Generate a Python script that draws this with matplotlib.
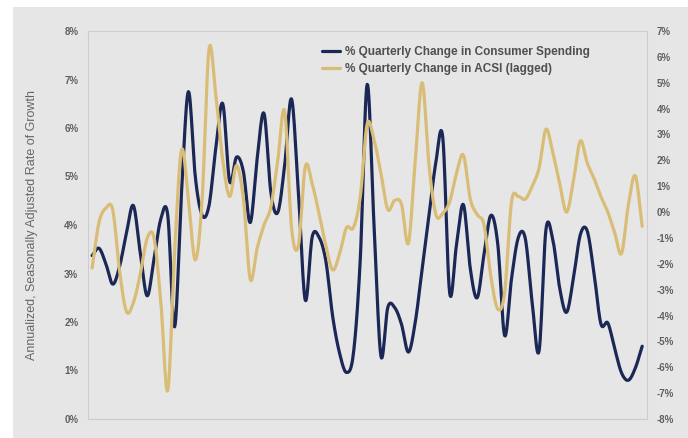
import numpy as np
import matplotlib
matplotlib.use("Agg")
import matplotlib.pyplot as plt
from matplotlib.patches import Rectangle
from matplotlib.ticker import FuncFormatter

# quarterly values (81 quarters)
spending = [3.37, 3.52, 3.20, 2.78, 3.15, 3.84, 4.40, 3.43, 2.54, 3.30,
            4.13, 4.20, 1.90, 4.67, 6.75, 5.00, 4.20, 4.40, 5.60, 6.50,
            4.90, 5.40, 5.10, 4.05, 5.37, 6.30, 4.67, 4.26, 5.23, 6.60,
            4.67, 2.45, 3.75, 3.75, 3.25, 2.10, 1.35, 0.96, 1.35, 3.30,
            6.90, 4.00, 1.30, 2.30, 2.30, 1.95, 1.38, 2.00, 3.10, 4.20,
            5.30, 5.80, 2.60, 3.60, 4.42, 3.10, 2.50, 3.40, 4.20, 3.60,
            1.72, 2.90, 3.75, 3.72, 2.40, 1.40, 3.90, 3.70, 2.70, 2.20,
            2.90, 3.80, 3.88, 3.00, 1.96, 1.98, 1.45, 0.95, 0.80, 1.05,
            1.50]
acsi = [-2.16, -0.40, 0.15, 0.08, -2.30, -3.85, -3.50, -2.40, -1.02, -1.00,
        -3.50, -6.90, -1.50, 2.40, 0.50, -1.85, 0.50, 6.30, 4.50, 2.00,
        0.60, 1.80, 0.50, -2.60, -1.40, -0.50, 0.20, 2.00, 3.90, -0.60,
        -1.30, 1.75, 1.10, -0.05, -1.30, -2.24, -1.60, -0.60, -0.60, 0.60,
        3.40, 2.80, 1.50, 0.10, 0.45, 0.30, -1.20, 2.00, 5.00, 1.80,
        -0.10, -0.05, 0.40, 1.50, 2.20, 0.50, -0.10, -0.50, -2.50, -3.75,
        -3.10, 0.40, 0.60, 0.50, 1.00, 1.70, 3.20, 2.30, 1.10, 0.00,
        1.20, 2.75, 1.90, 1.30, 0.60, 0.00, -0.80, -1.60, 0.30, 1.40,
        -0.55]
labels = ["% Quarterly Change in Consumer Spending",
          "% Quarterly Change in ACSI (lagged)"]

navy = "#1b2856"
gold = "#d9bd76"
bg = "#e6e6e6"
txt = "#5f5f5f"

plt.rcParams['font.family'] = ['Liberation Sans', 'DejaVu Sans']


def smooth(y, steps=12):
    # Catmull-Rom curve through the points, like Excel's smoothed line
    y = np.asarray(y, dtype=float)
    p = np.concatenate([[2 * y[0] - y[1]], y, [2 * y[-1] - y[-2]]])
    xs, ys = [], []
    t = np.linspace(0, 1, steps, endpoint=False)
    for i in range(len(y) - 1):
        p0, p1, p2, p3 = p[i], p[i + 1], p[i + 2], p[i + 3]
        seg = 0.5 * (2 * p1 + (-p0 + p2) * t
                     + (2 * p0 - 5 * p1 + 4 * p2 - p3) * t ** 2
                     + (-p0 + 3 * p1 - 3 * p2 + p3) * t ** 3)
        xs.extend(i + t)
        ys.extend(seg)
    xs.append(len(y) - 1)
    ys.append(y[-1])
    return np.array(xs), np.array(ys)


fig = plt.figure(figsize=(6.88, 4.38), dpi=100, facecolor="white")
fig.patches.append(Rectangle((13 / 688, 0), 1, 1 - 7 / 438, transform=fig.transFigure,
                             facecolor=bg, edgecolor="none", zorder=-1))

ax = fig.add_axes([88 / 688, 1 - 419 / 438, 559 / 688, 388 / 438])
ax.set_facecolor(bg)
ax2 = ax.twinx()

x1, y1 = smooth(spending)
x2, y2 = smooth(acsi)
l1, = ax.plot(x1, y1, color=navy, lw=2.3, solid_capstyle="round")
l2, = ax2.plot(x2, y2, color=gold, lw=2.3, solid_capstyle="round")

ax.set_xlim(-0.6, len(spending) - 1 + 0.7)
ax.set_ylim(0, 8)
ax2.set_ylim(-8, 7)
ax.set_yticks(range(0, 9))
ax2.set_yticks(range(-8, 8))
pct = FuncFormatter(lambda v, _: f"{v:.0f}%")
ax.yaxis.set_major_formatter(pct)
ax2.yaxis.set_major_formatter(pct)
ax.set_xticks([])

for a in (ax, ax2):
    a.tick_params(axis="y", length=0, pad=7, labelsize=7, labelcolor=txt)
    for lab in a.get_yticklabels():
        lab.set_fontweight("bold")
for s in ax.spines.values():
    s.set_color("#cdcdcd")
    s.set_linewidth(0.8)
for s in ax2.spines.values():
    s.set_visible(False)

ax.set_ylabel("Annualized, Seasonally Adjusted Rate of Growth", fontsize=9,
              color="#666666", labelpad=19)

leg = ax2.legend([l1, l2], labels, loc="upper left", bbox_to_anchor=(0.419, 0.961),
                 frameon=False, fontsize=8.5, borderpad=0, borderaxespad=0,
                 handlelength=1.5, handletextpad=0.4, labelspacing=0.45)
for t in leg.get_texts():
    t.set_color("#4f4f4f")
    t.set_fontweight("bold")

fig.savefig("out.png", dpi=100, facecolor=fig.get_facecolor())
